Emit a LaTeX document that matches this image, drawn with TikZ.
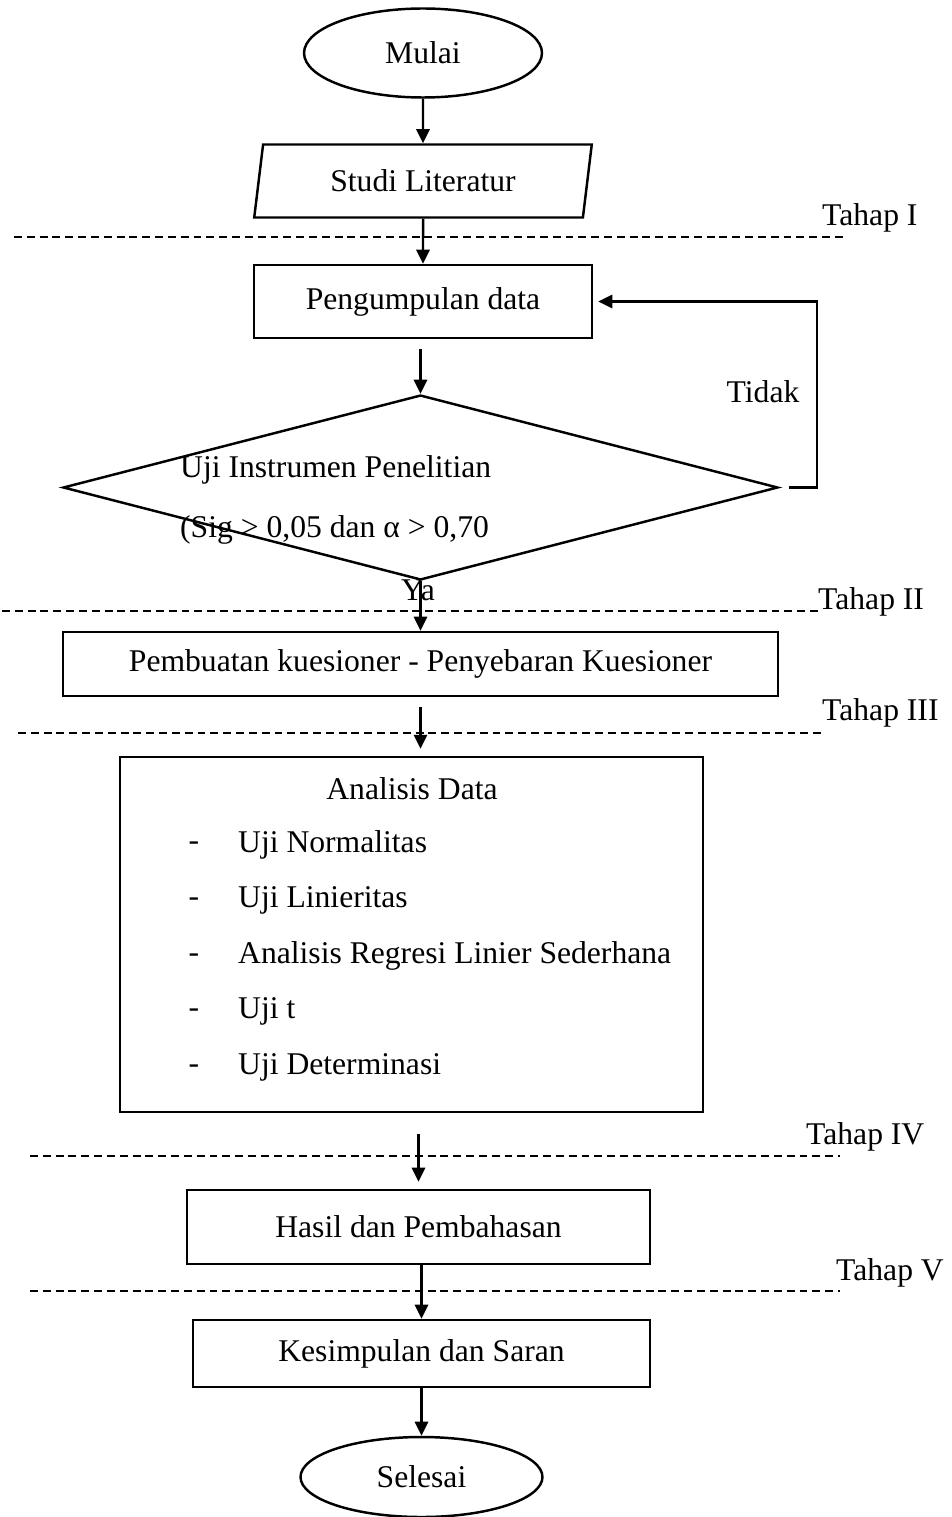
\documentclass[tikz,border=0pt]{standalone}
\usepackage{fontspec}
\setmainfont{Liberation Serif}
\usetikzlibrary{shapes.geometric,arrows.meta,calc}

\tikzset{
  kotak/.style={draw, rectangle, line width=1.4pt, inner sep=0pt},
  bulat/.style={draw, ellipse, line width=1.4pt, inner sep=0pt},
  jajar/.style={draw, trapezium, trapezium left angle=77, trapezium right angle=103,
    trapezium stretches=true, line width=1.4pt, inner sep=0pt},
  belah/.style={draw, diamond, line width=1.4pt, inner sep=0pt},
  panah/.style={-{Triangle[length=8pt,width=7.5pt]}, line width=1.4pt},
  garis/.style={dash pattern=on 4.5pt off 2.8pt, line width=1.1pt}
}

\begin{document}
\begin{tikzpicture}[x=0.02cm, y=-0.02cm, font=\fontsize{18}{22}\selectfont]
 \useasboundingbox (0,0) rectangle (951,1517);

 % alur utama
 \node[bulat, minimum width=4.76cm, minimum height=1.78cm] (mulai) at (423,53) {Mulai};
 \node[jajar, minimum width=6.76cm, minimum height=1.46cm] (studi) at (423,181) {Studi Literatur};
 \node[kotak, minimum width=6.76cm, minimum height=1.46cm] (kumpul) at (423,301.5) {Pengumpulan data};
 \node[belah, minimum width=14.3cm, minimum height=3.7cm] (uji) at (420.5,487.5) {};
 \node[anchor=west, align=left] (ujiteks) at (174,500) {Uji Instrumen Penelitian\\[0.42cm](Sig > 0,05 dan α > 0,70};
 \node[kotak, minimum width=14.3cm, minimum height=1.28cm] (buat) at (420.5,664) {Pembuatan kuesioner - Penyebaran Kuesioner};
 \node[kotak, minimum width=11.66cm, minimum height=7.1cm] (analisis) at (411.5,934.5) {};
 \node (analisisjudul) at (412,789) {Analisis Data};
 \foreach \teks [count=\i] in {Uji Normalitas, Uji Linieritas, Analisis Regresi Linier Sederhana, Uji t, Uji Determinasi}{
   \node (strip\i) at (194,791+55.6*\i) {-};
   \node[anchor=west] (butir\i) at (232,789+55.6*\i) {\teks};
 }
 \node[kotak, minimum width=9.26cm, minimum height=1.48cm] (hasil) at (418.5,1227) {Hasil dan Pembahasan};
 \node[kotak, minimum width=9.14cm, minimum height=1.34cm] (simpul) at (421.5,1353.5) {Kesimpulan dan Saran};
 \node[bulat, minimum width=4.84cm, minimum height=1.6cm] (selesai) at (421.5,1477) {Selesai};

 % label
 \node (tidak) at (763,392) {Tidak};
 \node (ya) at (418,590) {Ya};
 \node[anchor=west] (tahap1) at (816,218) {Tahap I};
 \node[anchor=west] (tahap2) at (812,602) {Tahap II};
 \node[anchor=west] (tahap3) at (816,713) {Tahap III};
 \node[anchor=west] (tahap4) at (800,1137) {Tahap IV};
 \node[anchor=west] (tahap5) at (830,1273) {Tahap V};

 % batas tahap
 \draw[garis] (14,237) -- (843,237);
 \draw[garis] (2,611) -- (820,611);
 \draw[garis] (18,733) -- (825,733);
 \draw[garis] (30,1156) -- (840,1156);
 \draw[garis] (30,1291) -- (840,1291);

 % panah
 \draw[panah] (mulai) -- (studi);
 \draw[panah] (studi.south) -- (kumpul.north);
 \draw[panah, shorten <=0.2cm] (kumpul.south -| uji.north) -- (uji.north);
 \draw[panah] (uji.south) -- (buat.north);
 \draw[panah, shorten <=0.2cm, shorten >=0.14cm] (buat.south) -- (buat.south |- analisis.north);
 \draw[panah, shorten <=0.42cm, shorten >=0.14cm] (analisis.south -| hasil.north) -- (hasil.north);
 \draw[panah] (hasil.south -| simpul.north) -- (simpul.north);
 \draw[panah] (simpul.south) -- (selesai.north);
 \coordinate (balik) at (817,487.5);
 \draw[panah, shorten <=0.2cm, shorten >=0.1cm] (uji.east) -- (balik) |- (kumpul.east);
\end{tikzpicture}
\end{document}
